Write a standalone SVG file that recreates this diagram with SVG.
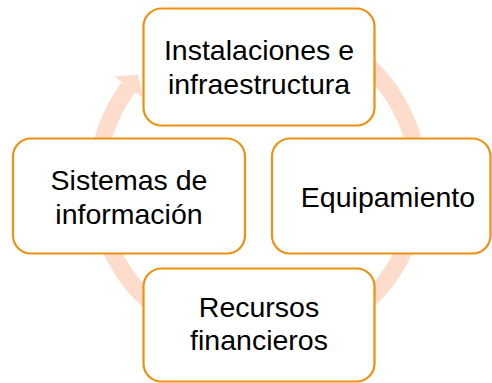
<svg xmlns="http://www.w3.org/2000/svg" width="492" height="383" viewBox="0 0 492 383">
  <style>
    .box { fill: #FFFFFF; stroke: #EE9010; stroke-width: 2.2; }
    .lbl { font-family: "Liberation Sans", Arial, sans-serif; font-size: 28.5px; fill: #000000; text-anchor: middle; }
    .ring { fill: none; stroke: #FDDCCB; stroke-width: 17; }
    .head { fill: #FDDCCB; }
  </style>
  <rect width="492" height="383" fill="#FFFFFF"/>
  <g id="connectors">
    <path class="ring" d="M 202.9 31.7 A 161 161 0 1 1 128.7 87"/>
    <polygon class="head" points="114.6,76.6 142.8,97.4 137.9,74.6"/>
  </g>
  <g id="node-instalaciones">
    <rect class="box" x="143.5" y="8.5" width="231" height="117" rx="18" ry="18"/>
    <text class="lbl" x="259" y="60">Instalaciones e</text>
    <text class="lbl" x="259" y="94">infraestructura</text>
  </g>
  <g id="node-sistemas">
    <rect class="box" x="13" y="138.5" width="232" height="115" rx="18" ry="18"/>
    <text class="lbl" x="129" y="190">Sistemas de</text>
    <text class="lbl" x="129" y="224">información</text>
  </g>
  <g id="node-equipamiento">
    <rect class="box" x="272" y="138.5" width="218.5" height="115" rx="18" ry="18"/>
    <text class="lbl" x="388" y="207">Equipamiento</text>
  </g>
  <g id="node-recursos">
    <rect class="box" x="143.5" y="268.5" width="231" height="113" rx="18" ry="18"/>
    <text class="lbl" x="259" y="317">Recursos</text>
    <text class="lbl" x="259" y="350">financieros</text>
  </g>
</svg>
